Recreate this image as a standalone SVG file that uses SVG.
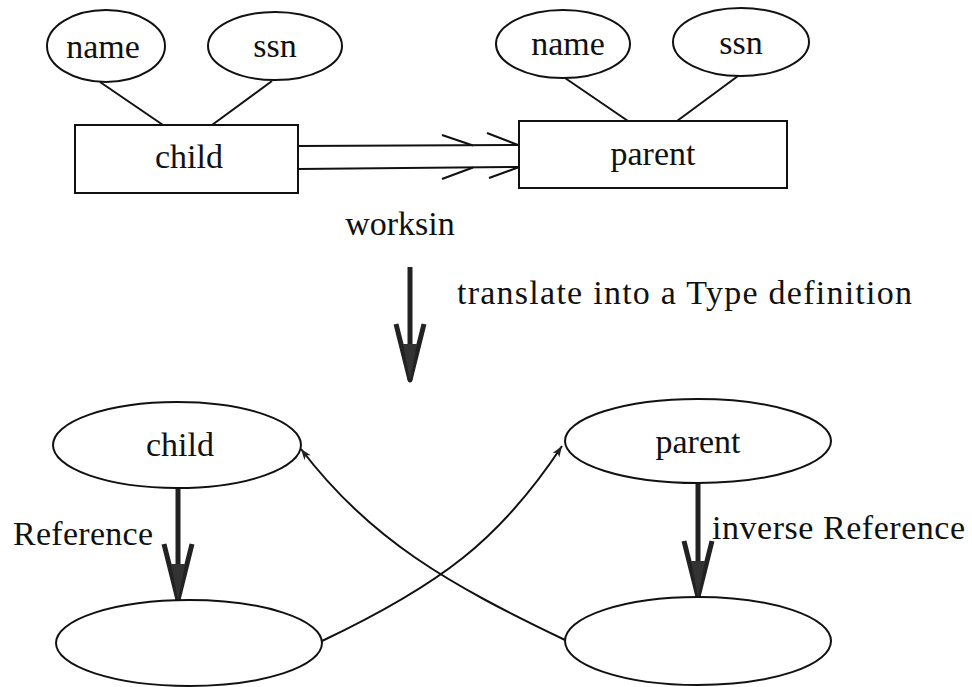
<svg xmlns="http://www.w3.org/2000/svg" width="972" height="687" viewBox="0 0 972 687">
<defs>
<style>
.s{fill:none;stroke:#111;stroke-width:2}
.n{fill:#fff;stroke:#111;stroke-width:2}
.t{font-family:"Liberation Serif","Times New Roman",serif;font-size:34px;fill:#111}
.m{text-anchor:middle}
.thick{fill:none;stroke:#222;stroke-width:5}
</style>
<marker id="big" markerUnits="userSpaceOnUse" viewBox="-60 -18 64 36" refX="0" refY="0" markerWidth="64" markerHeight="36" orient="auto" overflow="visible">
<path d="M-56,-14 L0,0 L-56,14" fill="none" stroke="#222" stroke-width="5" stroke-linejoin="round"/>
<path d="M-36,-7 L0,0 L-36,7 Z" fill="#333"/>
</marker>
<marker id="small" markerUnits="userSpaceOnUse" viewBox="-12 -5 14 10" refX="0" refY="0" markerWidth="14" markerHeight="10" orient="auto" overflow="visible">
<path d="M-11,-4 L0,0 L-11,4 L-8,0 Z" fill="#222"/>
</marker>
</defs>
<g id="connectors">
<line class="s" x1="100" y1="82" x2="163" y2="125"/>
<line class="s" x1="272" y1="81" x2="212" y2="125"/>
<line class="s" x1="565" y1="78" x2="628" y2="121"/>
<line class="s" x1="738" y1="76" x2="677" y2="121"/>
<g id="worksin-arrow">
<line class="s" x1="298" y1="146" x2="519" y2="145"/>
<line class="s" x1="298" y1="169" x2="519" y2="167"/>
<path class="s" d="M442,135 L473,145.5 M487,133 L518,145"/>
<path class="s" d="M442,179 L473,167.5 M489,178 L518,167.5"/>
</g>
<line class="thick" x1="410" y1="267" x2="410" y2="380" marker-end="url(#big)"/>
<line class="thick" x1="178" y1="488" x2="178" y2="600" marker-end="url(#big)"/>
<line class="thick" x1="698" y1="483" x2="698" y2="597" marker-end="url(#big)"/>
<path class="s" d="M322,641 C440,585 500,540 562,446" marker-end="url(#small)"/>
<path class="s" d="M565,640 C450,585 370,540 301,449" marker-end="url(#small)"/>
</g>
<g id="name-left"><ellipse class="n" cx="106" cy="46" rx="59" ry="36"/><text class="t m" x="103" y="58">name</text></g>
<g id="ssn-left"><ellipse class="n" cx="275" cy="46" rx="67" ry="34"/><text class="t m" x="275" y="57">ssn</text></g>
<g id="child-entity"><rect class="n" x="75" y="125" width="223" height="68"/><text class="t m" x="189" y="168">child</text></g>
<g id="name-right"><ellipse class="n" cx="563" cy="44" rx="67" ry="34"/><text class="t m" x="568" y="55">name</text></g>
<g id="ssn-right"><ellipse class="n" cx="741" cy="42" rx="68" ry="34"/><text class="t m" x="741" y="54">ssn</text></g>
<g id="parent-entity"><rect class="n" x="519" y="121" width="268" height="67"/><text class="t m" x="653" y="165">parent</text></g>
<g id="labels">
<text class="t m" x="400" y="235">worksin</text>
<text class="t" x="457" y="304" textLength="455" lengthAdjust="spacing">translate into a Type definition</text>
<text class="t" x="13" y="545" textLength="140" lengthAdjust="spacing">Reference</text>
<text class="t" x="712" y="539" textLength="253" lengthAdjust="spacing">inverse Reference</text>
</g>
<g id="child-type"><ellipse class="n" cx="177" cy="445" rx="124" ry="43"/><text class="t m" x="180" y="456">child</text></g>
<g id="parent-type"><ellipse class="n" cx="698" cy="441" rx="133" ry="42"/><text class="t m" x="698" y="453">parent</text></g>
<g id="child-ref"><ellipse class="n" cx="189" cy="643" rx="133" ry="43"/></g>
<g id="parent-ref"><ellipse class="n" cx="698" cy="641" rx="133" ry="44"/></g>
</svg>
